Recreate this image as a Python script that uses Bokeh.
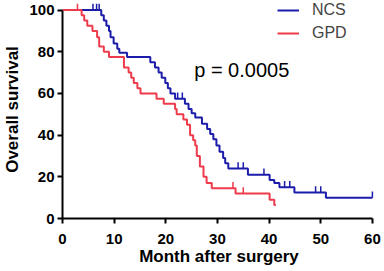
import numpy as np
from bokeh.plotting import figure
from bokeh.models import Range1d, Legend, LegendItem, Label, FixedTicker
from bokeh.embed import file_html
from bokeh.resources import INLINE

# NCS group (blue): step times (months) and survival (%)
ncs_t = [0, 7.5, 8.0, 8.5, 9.0, 9.3, 9.9, 10.6, 11.0, 12.5, 17.0, 17.9, 18.6, 19.2,
         19.9, 20.4, 20.9, 21.8, 23.7, 24.4, 25.0, 25.7, 27.0, 28.0, 28.6, 29.2, 29.8,
         30.4, 31.1, 31.5, 32.1, 35.9, 40.1, 41.0, 42.0, 44.9, 51.0, 60.0]
ncs_s = [100, 97.5, 95, 92.5, 90, 87, 84, 81.5, 79.5, 77.5, 75, 72.5, 70, 67.5,
         65, 62.5, 60, 57.5, 55, 52.5, 50.5, 48.5, 45.5, 43, 40.5, 38, 35,
         32, 29, 26.5, 24, 21, 18.5, 17, 15, 12.5, 10, 10]
ncs_cens_t = [5.9, 6.6, 7.1, 22.3, 23.2, 34.0, 35.0, 39.0, 43.0, 44.0, 49.0, 50.0, 60.0]
ncs_cens_s = [100, 100, 100, 57.5, 57.5, 24, 24, 21, 15, 15, 12.5, 12.5, 10]

# GPD group (red)
gpd_t = [0, 3.7, 4.2, 4.8, 5.8, 6.7, 7.1, 8.0, 9.0, 11.9, 12.8, 13.3, 13.8, 14.5,
         15.1, 18.2, 19.6, 21.8, 22.1, 23.4, 24.1, 24.7, 25.3, 25.7, 26.0, 26.6,
         27.3, 27.9, 28.9, 33.5, 40.1, 41.0, 41.3]
gpd_s = [100, 97.5, 95, 92.5, 90, 87, 82.5, 80, 77.5, 72.5, 70, 67.5, 65, 62.5,
         60, 57.5, 55, 52.5, 50, 47.5, 45, 40, 37.5, 35, 30, 25,
         20, 17, 14.5, 12, 9, 6.5, 6.5]
gpd_cens_t = [2.9, 33.0, 35.0]
gpd_cens_s = [100, 14.5, 12]

x_ticks = [0, 10, 20, 30, 40, 50, 60]
y_ticks = [0, 20, 40, 60, 80, 100]
p_text = "p = 0.0005"

BLUE = "#1c1cab"
RED = "#ee3b4b"
FONT = "Liberation Sans"
TICK_H = 3.0

p = figure(width=384, height=271,
           x_range=Range1d(0, 60.6), y_range=Range1d(0, 104.6),
           output_backend="svg", toolbar_location=None,
           min_border_left=60, min_border_right=9, min_border_top=0, min_border_bottom=53)
p.outline_line_color = None
p.grid.visible = False
p.background_fill_color = "white"

ncs_line = p.step(ncs_t, ncs_s, mode="after", line_color=BLUE, line_width=2)
gpd_line = p.step(gpd_t, gpd_s, mode="after", line_color=RED, line_width=2)

p.segment(x0=ncs_cens_t, y0=ncs_cens_s, x1=ncs_cens_t,
          y1=[s + TICK_H for s in ncs_cens_s], line_color=BLUE, line_width=1.5)
p.segment(x0=gpd_cens_t, y0=gpd_cens_s, x1=gpd_cens_t,
          y1=[s + TICK_H for s in gpd_cens_s], line_color=RED, line_width=1.5)

leg_ncs = p.scatter(x=[], y=[], marker="dash", angle=np.pi / 2, size=8,
                    line_color=BLUE, line_width=1.5)
leg_gpd = p.scatter(x=[], y=[], marker="dash", angle=np.pi / 2, size=8,
                    line_color=RED, line_width=1.5)

for ax, ticks, label in ((p.xaxis[0], x_ticks, "Month after surgery"),
                         (p.yaxis[0], y_ticks, "Overall survival")):
    ax.ticker = FixedTicker(ticks=ticks)
    ax.bounds = (ticks[0], ticks[-1])
    ax.axis_label = label
    ax.axis_label_text_font = FONT
    ax.axis_label_text_font_style = "bold"
    ax.axis_label_text_font_size = "17px"
    ax.axis_label_text_color = "black"
    ax.major_label_text_font = FONT
    ax.major_label_text_font_style = "bold"
    ax.major_label_text_font_size = "15px"
    ax.major_label_text_color = "black"
    ax.axis_line_width = 2
    ax.axis_line_color = "black"
    ax.major_tick_line_width = 2
    ax.major_tick_line_color = "black"
    ax.major_tick_in = 0
    ax.major_tick_out = 5
    ax.minor_tick_line_color = None

p.xaxis.major_label_standoff = 10
p.xaxis.axis_label_standoff = 0
p.yaxis.major_label_standoff = 3
p.yaxis.axis_label_standoff = 4

legend = Legend(items=[LegendItem(label="NCS", renderers=[ncs_line, leg_ncs]),
                       LegendItem(label="GPD", renderers=[gpd_line, leg_gpd])],
                location=(215, 176), orientation="vertical",
                glyph_width=22, glyph_height=12, label_height=12, label_standoff=13,
                spacing=5, padding=0, margin=0,
                label_text_font=FONT, label_text_font_size="16px",
                border_line_color=None, background_fill_alpha=0)
p.add_layout(legend)

p.add_layout(Label(x=25.5, y=71.2, text=p_text, text_font=FONT, text_font_size="20px",
                   text_baseline="middle", text_color="black"))

open("out.html", "w").write(file_html(p, INLINE))
